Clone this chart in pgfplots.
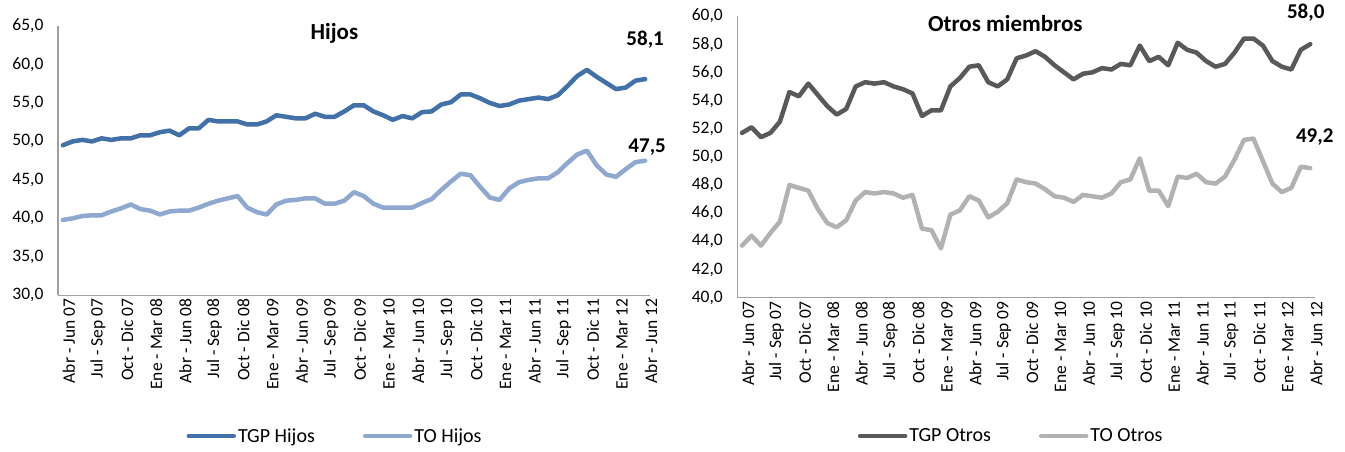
\documentclass[border=0pt]{standalone}
\usepackage{pgfplots}
\pgfplotsset{compat=1.18}
\usepackage{pgfplotstable}
\usepackage{fontspec}
\setmainfont{Carlito}
\definecolor{tgph}{RGB}{66,112,168}
\definecolor{toh}{RGB}{143,168,207}
\definecolor{tgpo}{RGB}{89,89,89}
\definecolor{too}{RGB}{178,178,178}
\definecolor{axgray}{RGB}{160,160,160}

\pgfplotstableread{
i tgph toh tgpo too
0 49.5 39.8 51.7 43.7
1 50.0 40.0 52.1 44.4
2 50.2 40.3 51.4 43.7
3 50.0 40.4 51.7 44.6
4 50.4 40.4 52.5 45.4
5 50.2 40.9 54.6 48.0
6 50.4 41.3 54.3 47.8
7 50.4 41.8 55.2 47.6
8 50.8 41.2 54.4 46.3
9 50.8 41.0 53.6 45.3
10 51.2 40.5 53.0 45.0
11 51.4 40.9 53.4 45.5
12 50.8 41.0 55.0 46.9
13 51.7 41.0 55.3 47.5
14 51.7 41.4 55.2 47.4
15 52.8 41.9 55.3 47.5
16 52.6 42.3 55.0 47.4
17 52.6 42.6 54.8 47.1
18 52.6 42.9 54.5 47.3
19 52.2 41.4 52.9 44.9
20 52.2 40.8 53.3 44.8
21 52.6 40.5 53.3 43.5
22 53.4 41.8 55.0 45.9
23 53.2 42.3 55.6 46.2
24 53.0 42.4 56.4 47.2
25 53.0 42.6 56.5 46.9
26 53.6 42.6 55.3 45.7
27 53.2 41.9 55.0 46.1
28 53.2 41.9 55.5 46.7
29 53.9 42.3 57.0 48.4
30 54.7 43.4 57.2 48.2
31 54.7 42.9 57.5 48.1
32 53.9 41.9 57.1 47.7
33 53.4 41.4 56.5 47.2
34 52.8 41.4 56.0 47.1
35 53.3 41.4 55.5 46.8
36 53.0 41.4 55.9 47.3
37 53.8 42.0 56.0 47.2
38 53.9 42.5 56.3 47.1
39 54.8 43.7 56.2 47.4
40 55.1 44.8 56.6 48.2
41 56.1 45.8 56.5 48.4
42 56.1 45.6 57.9 49.9
43 55.6 44.1 56.8 47.6
44 55.0 42.7 57.1 47.6
45 54.6 42.4 56.5 46.5
46 54.8 43.9 58.1 48.6
47 55.3 44.7 57.6 48.5
48 55.5 45.0 57.4 48.8
49 55.7 45.2 56.8 48.2
50 55.5 45.2 56.4 48.1
51 56.0 46.0 56.6 48.6
52 57.2 47.2 57.4 49.8
53 58.5 48.3 58.4 51.2
54 59.3 48.8 58.4 51.3
55 58.4 46.9 57.9 49.7
56 57.6 45.7 56.8 48.1
57 56.8 45.4 56.4 47.5
58 57.0 46.4 56.2 47.8
59 57.9 47.3 57.6 49.3
60 58.1 47.5 58.0 49.2
}\data

\pgfplotsset{
  panel/.style={
    scale only axis,
    anchor=south west,
    clip=false,
    xmin=-0.5, xmax=60.5,
    axis x line*=bottom, axis y line*=left,
    axis line style={draw=axgray, line width=1.2pt, -},
    tick style={draw=none},
    xtick={0,3,...,60},
    xticklabels={Abr - Jun 07, Jul - Sep 07, Oct - Dic 07, Ene - Mar 08, Abr - Jun 08, Jul - Sep 08, Oct - Dic 08, Ene - Mar 09, Abr - Jun 09, Jul - Sep 09, Oct - Dic 09, Ene - Mar 10, Abr - Jun 10, Jul - Sep 10, Oct - Dic 10, Ene - Mar 11, Abr - Jun 11, Jul - Sep 11, Oct - Dic 11, Ene - Mar 12, Abr - Jun 12},
    xticklabel style={rotate=90, anchor=east, font=\fontsize{17.5}{20}\selectfont, yshift=-6pt},
    yticklabel style={font=\fontsize{17.5}{20}\selectfont, xshift=-11pt},
    /pgf/number format/.cd, fixed, fixed zerofill, precision=1, use comma, assume math mode=true,
    /pgfplots/.cd,
    legend style={draw=none, fill=none, font=\fontsize{20}{23}\selectfont, legend columns=2,
      anchor=center, /tikz/every even column/.append style={column sep=46pt}},
    legend image code/.code={\draw[##1, line width=4.5pt] (0pt,0pt) -- (45pt,0pt);},
    every axis plot/.append style={line width=4.5pt, line join=round, line cap=round},
  },
  lbl/.style={draw=none, forget plot, mark=none, nodes near coords, point meta=explicit symbolic,
    every node near coord/.append style={font=\bfseries\fontsize{21}{24}\selectfont, anchor=center, text=black}},
}

\begin{document}
\begin{tikzpicture}[x=1pt,y=1pt]
\path[use as bounding box] (0,0) rectangle (1345,451);
\begin{axis}[panel,
  at={(58pt,155.7pt)}, width=592pt, height=269.3pt,
  ymin=30, ymax=65, ytick={30,35,...,65},
  legend style={at={(0.468,-0.522)}},
]
\addplot[tgph] table[x=i, y=tgph] {\data};
\addlegendentry{TGP Hijos}
\addplot[toh] table[x=i, y=toh] {\data};
\addlegendentry{TO Hijos}
\addplot[lbl, every node near coord/.append style={yshift=39.6pt}] coordinates {(60,58.1) [58{,}1]};
\addplot[lbl, every node near coord/.append style={yshift=13.5pt, xshift=2pt}] coordinates {(60,47.5) [47{,}5]};
\node[font=\bfseries\fontsize{23}{26}\selectfont] at (rel axis cs:0.467,0.974) {Hijos};
\end{axis}
\begin{axis}[panel,
  at={(737.3pt,153.3pt)}, width=577.7pt, height=281.7pt,
  ymin=40, ymax=60, ytick={40,42,...,60},
  legend style={at={(0.474,-0.491)}},
]
\addplot[tgpo] table[x=i, y=tgpo] {\data};
\addlegendentry{TGP Otros}
\addplot[too] table[x=i, y=too] {\data};
\addlegendentry{TO Otros}
\addplot[lbl, every node near coord/.append style={yshift=32pt, xshift=-4.5pt}] coordinates {(60,58.0) [58{,}0]};
\addplot[lbl, every node near coord/.append style={yshift=31pt, xshift=4.5pt}] coordinates {(60,49.2) [49{,}2]};
\node[font=\bfseries\fontsize{23}{26}\selectfont] at (rel axis cs:0.464,0.975) {Otros miembros};
\end{axis}
\end{tikzpicture}
\end{document}
